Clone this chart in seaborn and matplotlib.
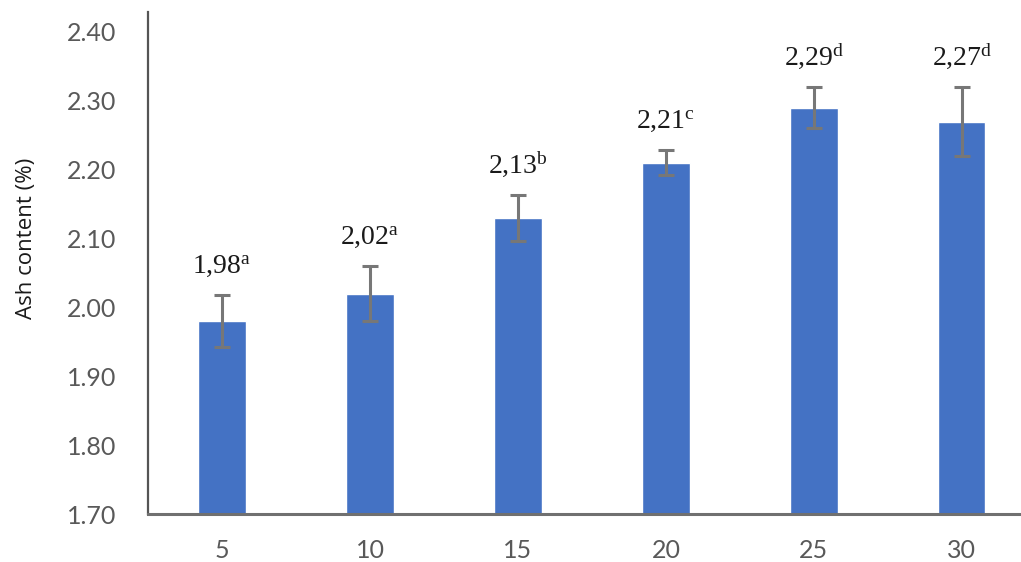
import matplotlib
matplotlib.use("Agg")
import matplotlib.pyplot as plt
import seaborn as sns
import pandas as pd

# Ash content by treatment level
levels = ["5", "10", "15", "20", "25", "30"]
ash = [1.98, 2.02, 2.13, 2.21, 2.29, 2.27]
ash_sd = [0.038, 0.040, 0.033, 0.018, 0.030, 0.050]
groups = ["a", "a", "b", "c", "d", "d"]
yticks = [1.70, 1.80, 1.90, 2.00, 2.10, 2.20, 2.30, 2.40]

sns.set_theme(style="white")
plt.rcParams["font.family"] = ["Lato", "DejaVu Sans"]
plt.rcParams["mathtext.fontset"] = "custom"
plt.rcParams["mathtext.rm"] = "Liberation Serif"
plt.rcParams["mathtext.it"] = "Liberation Serif"

df = pd.DataFrame({"level": levels, "ash": ash})

fig = plt.figure(figsize=(10.21, 5.62), dpi=100)
ax = fig.add_axes([0.145, 0.0854, 0.855, 0.8932])

sns.barplot(data=df, x="level", y="ash", order=levels, color="#4472C4",
            saturation=1, width=0.32, ax=ax, errorbar=None)
ax.errorbar(range(len(levels)), ash, yerr=ash_sd, fmt="none",
            ecolor="#777777", elinewidth=2.2, capsize=6, capthick=2.2, zorder=5)

for i, (v, sd, g) in enumerate(zip(ash, ash_sd, groups)):
    label = f"{v:.2f}".replace(".", ",") + r"$^{\mathrm{" + g + "}}$"
    ax.annotate(label, xy=(i, v + sd), xytext=(0, 16), textcoords="offset points",
                ha="center", va="baseline", fontsize=20,
                family="Liberation Serif", color="#1a1a1a")

ax.set_ylim(1.70, 2.429)
ax.set_xlim(-0.5, 5.4)
ax.set_yticks(yticks)
ax.set_yticklabels([f"{t:.2f}" for t in yticks])
ax.tick_params(axis="both", length=0, labelsize=18, colors="#595959")
ax.tick_params(axis="y", pad=23)
ax.tick_params(axis="x", pad=18)
ax.set_xlabel("")
ax.set_ylabel("Ash content (%)", fontsize=16, color="#1a1a1a",
              family=["Open Sans", "DejaVu Sans"])
ax.yaxis.set_label_coords(-0.127, 0.55)

for side in ["top", "right"]:
    ax.spines[side].set_visible(False)
ax.spines["left"].set_color("#555555")
ax.spines["left"].set_linewidth(1.6)
ax.spines["bottom"].set_color("#707070")
ax.spines["bottom"].set_linewidth(2.2)

fig.savefig("out.png", dpi=100)
